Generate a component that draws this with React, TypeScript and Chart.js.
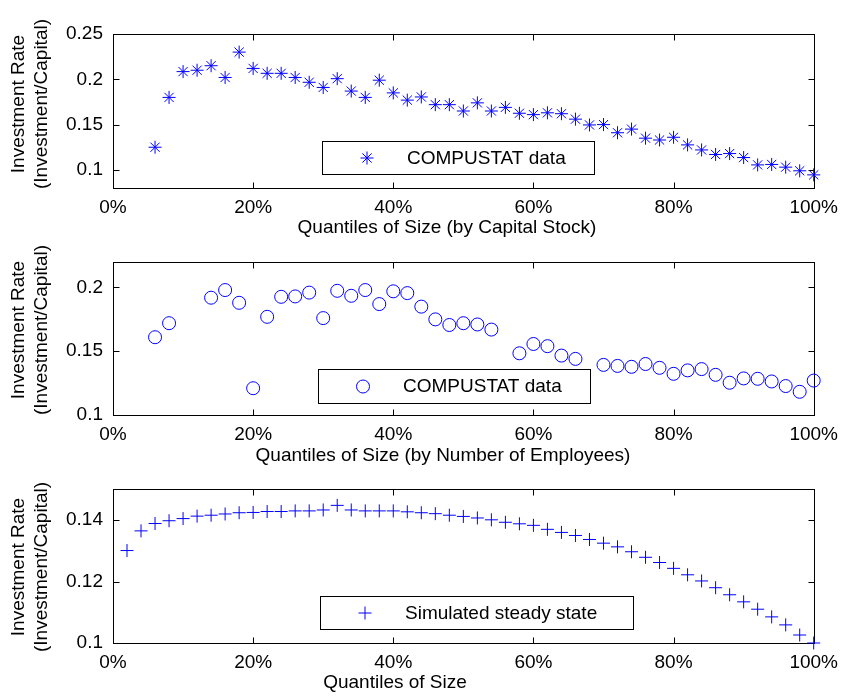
import React, { useEffect, useRef } from 'react';
import { Chart, registerables } from 'chart.js';

Chart.register(...registerables);

const FONT = "'Liberation Sans', Arial, Helvetica, sans-serif";
const BLUE = '#0000ff';

// ---- tick labels ----
const xTickValues = [0, 20, 40, 60, 80, 100];
const yTicksCapital = [0.1, 0.15, 0.2, 0.25];
const yTicksEmployees = [0.1, 0.15, 0.2];
const yTicksSimulated = [0.1, 0.12, 0.14];
const yTitleLines = ['Investment Rate', '(Investment/Capital)'];

// ---- panel 1: by capital stock ----
const capitalQuantiles = [
  6, 8, 10, 12, 14, 16, 18, 20, 22, 24,
  26, 28, 30, 32, 34, 36, 38, 40, 42, 44,
  46, 48, 50, 52, 54, 56, 58, 60, 62, 64,
  66, 68, 70, 72, 74, 76, 78, 80, 82, 84,
  86, 88, 90, 92, 94, 96, 98, 100,
];
const capitalRates = [
  0.125, 0.180, 0.2085, 0.210, 0.215, 0.202, 0.230, 0.212, 0.2066, 0.2066,
  0.202, 0.1967, 0.191, 0.2007, 0.187, 0.180, 0.199, 0.185, 0.177, 0.1805,
  0.172, 0.172, 0.165, 0.174, 0.165, 0.169, 0.1625, 0.161, 0.163, 0.162,
  0.156, 0.1496, 0.150, 0.141, 0.145, 0.135, 0.133, 0.136, 0.1276, 0.122,
  0.117, 0.118, 0.1136, 0.1055, 0.106, 0.103, 0.099, 0.0945,
];

// ---- panel 2: by number of employees ----
const employeeQuantiles = [
  6, 8, 14, 16, 18, 20, 22, 24, 26, 28,
  30, 32, 34, 36, 38, 40, 42, 44, 46, 48,
  50, 52, 54, 58, 60, 62, 64, 66, 70, 72,
  74, 76, 78, 80, 82, 84, 86, 88, 90, 92,
  94, 96, 98, 100,
];
const employeeRates = [
  0.161, 0.172, 0.192, 0.198, 0.188, 0.121, 0.177, 0.1927, 0.193, 0.196,
  0.176, 0.1974, 0.1935, 0.198, 0.187, 0.197, 0.1956, 0.185, 0.175, 0.1706,
  0.172, 0.171, 0.167, 0.1484, 0.1557, 0.154, 0.1466, 0.144, 0.1393, 0.1385,
  0.1378, 0.140, 0.137, 0.1323, 0.135, 0.136, 0.1315, 0.1253, 0.1287, 0.1284,
  0.1263, 0.1227, 0.1182, 0.127,
];

// ---- panel 3: simulated steady state ----
const simulatedQuantiles = [
  2, 4, 6, 8, 10, 12, 14, 16, 18, 20,
  22, 24, 26, 28, 30, 32, 34, 36, 38, 40,
  42, 44, 46, 48, 50, 52, 54, 56, 58, 60,
  62, 64, 66, 68, 70, 72, 74, 76, 78, 80,
  82, 84, 86, 88, 90, 92, 94, 96, 98, 100,
];
const simulatedRates = [
  0.1301, 0.1365, 0.1389, 0.1398, 0.1405, 0.1413, 0.1416, 0.142, 0.1424, 0.1425,
  0.1428, 0.1428, 0.143, 0.143, 0.1433, 0.1448, 0.1433, 0.143, 0.143, 0.143,
  0.1427, 0.1424, 0.1421, 0.1416, 0.1412, 0.1407, 0.1401, 0.1393, 0.1388, 0.1383,
  0.137, 0.136, 0.135, 0.1337, 0.1325, 0.1313, 0.1297, 0.1279, 0.1262, 0.1243,
  0.1222, 0.1202, 0.118, 0.1157, 0.1134, 0.111, 0.1085, 0.1059, 0.1026, 0.1,
];

type PanelCfg = {
  top: number;
  height: number;
  plotTop: number;
  plotBottom: number;
  xs: number[];
  ys: number[];
  yMin: number;
  yMax: number;
  yTicks: number[];
  pointStyle: 'star' | 'circle' | 'cross';
  label: string;
  xTitle: string;
  xTitleX: number;
  xTitleY: number;
  yTitleY: number;
  legendBox: [number, number, number, number];
};

const panels: PanelCfg[] = [
  {
    top: 0, height: 240, plotTop: 34, plotBottom: 188,
    xs: capitalQuantiles, ys: capitalRates,
    yMin: 0.08, yMax: 0.25, yTicks: yTicksCapital,
    pointStyle: 'star', label: 'COMPUSTAT data',
    xTitle: 'Quantiles of Size (by Capital Stock)', xTitleX: 447, xTitleY: 228,
    yTitleY: 104,
    legendBox: [322, 141, 272, 33],
  },
  {
    top: 240, height: 228, plotTop: 22, plotBottom: 175,
    xs: employeeQuantiles, ys: employeeRates,
    yMin: 0.1, yMax: 0.22, yTicks: yTicksEmployees,
    pointStyle: 'circle', label: 'COMPUSTAT data',
    xTitle: 'Quantiles of Size (by Number of Employees)', xTitleX: 443, xTitleY: 216,
    yTitleY: 90,
    legendBox: [318, 129, 272, 34],
  },
  {
    top: 468, height: 228, plotTop: 20, plotBottom: 175,
    xs: simulatedQuantiles, ys: simulatedRates,
    yMin: 0.1, yMax: 0.15, yTicks: yTicksSimulated,
    pointStyle: 'cross', label: 'Simulated steady state',
    xTitle: 'Quantiles of Size', xTitleX: 395, xTitleY: 215,
    yTitleY: 99,
    legendBox: [320, 128, 313, 33],
  },
];

function drawMarker(ctx: CanvasRenderingContext2D, style: string, x: number, y: number, r: number) {
  ctx.beginPath();
  if (style === 'circle') {
    ctx.arc(x, y, r, 0, Math.PI * 2);
  } else {
    ctx.moveTo(x - r, y);
    ctx.lineTo(x + r, y);
    ctx.moveTo(x, y - r);
    ctx.lineTo(x, y + r);
    if (style === 'star') {
      const d = r * Math.SQRT1_2;
      ctx.moveTo(x - d, y - d);
      ctx.lineTo(x + d, y + d);
      ctx.moveTo(x - d, y + d);
      ctx.lineTo(x + d, y - d);
    }
  }
  ctx.stroke();
}

function Panel({ cfg }: { cfg: PanelCfg }) {
  const ref = useRef<HTMLCanvasElement | null>(null);

  useEffect(() => {
    if (!ref.current) return;

    const framePlugin = {
      id: 'frameTicks',
      beforeDatasetsDraw(chart: any) {
        const { ctx, chartArea: a, scales } = chart;
        const L = 6;
        ctx.save();
        ctx.strokeStyle = '#000';
        ctx.lineWidth = 1;
        const l = Math.round(a.left) + 0.5;
        const r = Math.round(a.right) + 0.5;
        const t = Math.round(a.top) + 0.5;
        const b = Math.round(a.bottom) + 0.5;
        ctx.strokeRect(l, t, r - l, b - t);
        ctx.beginPath();
        for (const tk of scales.x.ticks) {
          const px = Math.round(scales.x.getPixelForValue(tk.value)) + 0.5;
          ctx.moveTo(px, b); ctx.lineTo(px, b - L);
          ctx.moveTo(px, t); ctx.lineTo(px, t + L);
        }
        for (const tk of scales.y.ticks) {
          const py = Math.round(scales.y.getPixelForValue(tk.value)) + 0.5;
          ctx.moveTo(l, py); ctx.lineTo(l + L, py);
          ctx.moveTo(r, py); ctx.lineTo(r - L, py);
        }
        ctx.stroke();
        ctx.restore();
      },
    };

    const legendPlugin = {
      id: 'boxLegend',
      afterDatasetsDraw(chart: any) {
        const { ctx } = chart;
        const [bx, by, bw, bh] = cfg.legendBox;
        ctx.save();
        ctx.fillStyle = '#fff';
        ctx.fillRect(bx, by, bw, bh);
        ctx.strokeStyle = '#000';
        ctx.lineWidth = 1;
        ctx.strokeRect(bx + 0.5, by + 0.5, bw, bh);
        ctx.strokeStyle = BLUE;
        drawMarker(ctx, cfg.pointStyle, bx + 45, by + bh / 2 + 0.5, 6.5);
        ctx.fillStyle = '#000';
        ctx.font = `19px ${FONT}`;
        ctx.textAlign = 'left';
        ctx.textBaseline = 'middle';
        ctx.fillText(cfg.label, bx + 85, by + bh / 2 + 1);
        ctx.restore();
      },
    };

    const titlesPlugin = {
      id: 'axisTitles',
      afterDraw(chart: any) {
        const { ctx } = chart;
        ctx.save();
        ctx.fillStyle = '#000';
        ctx.font = `19px ${FONT}`;
        ctx.textAlign = 'center';
        ctx.textBaseline = 'middle';
        ctx.fillText(cfg.xTitle, cfg.xTitleX, cfg.xTitleY);
        ctx.restore();

        ctx.save();
        ctx.fillStyle = '#000';
        ctx.font = `19px ${FONT}`;
        ctx.textAlign = 'center';
        ctx.textBaseline = 'middle';
        const xs = [19, 42];
        yTitleLines.forEach((line, i) => {
          ctx.save();
          ctx.translate(xs[i], cfg.yTitleY);
          ctx.rotate(-Math.PI / 2);
          ctx.fillText(line, 0, 0);
          ctx.restore();
        });
        ctx.restore();
      },
    };

    const chart = new Chart(ref.current, {
      type: 'scatter',
      data: {
        datasets: [
          {
            label: cfg.label,
            data: cfg.xs.map((x, i) => ({ x, y: cfg.ys[i] })),
            pointStyle: cfg.pointStyle,
            pointRadius: 6.5,
            pointHoverRadius: 6.5,
            borderColor: BLUE,
            backgroundColor: 'rgba(0,0,0,0)',
            borderWidth: 1,
            pointBorderWidth: 1,
            showLine: false,
            clip: false as any,
          } as any,
        ],
      },
      options: {
        animation: false,
        responsive: false,
        maintainAspectRatio: false,
        events: [],
        layout: { padding: { top: cfg.plotTop, right: 26, left: 0, bottom: 0 } },
        plugins: {
          legend: { display: false },
          tooltip: { enabled: false },
          title: { display: false },
        },
        scales: {
          x: {
            type: 'linear',
            min: 0,
            max: 100,
            grid: { display: false, drawTicks: false },
            border: { display: false },
            ticks: {
              color: '#000',
              font: { family: FONT, size: 19 },
              padding: 8,
              maxRotation: 0,
              autoSkip: false,
              callback: (v: any) => `${v}%`,
            },
            afterBuildTicks: (s: any) => {
              s.ticks = xTickValues.map((v) => ({ value: v }));
            },
            afterFit: (s: any) => {
              s.height = cfg.height - cfg.plotBottom;
            },
          },
          y: {
            type: 'linear',
            min: cfg.yMin,
            max: cfg.yMax,
            grid: { display: false, drawTicks: false },
            border: { display: false },
            ticks: {
              color: '#000',
              font: { family: FONT, size: 19 },
              padding: 10,
              autoSkip: false,
              callback: (v: any) => String(Number(Number(v).toFixed(2))),
            },
            afterBuildTicks: (s: any) => {
              s.ticks = cfg.yTicks.map((v) => ({ value: v }));
            },
            afterFit: (s: any) => {
              s.width = 113;
            },
            title: { display: false },
          },
        },
      } as any,
      plugins: [framePlugin, legendPlugin, titlesPlugin],
    });

    return () => chart.destroy();
  }, [cfg]);

  return (
    <canvas
      ref={ref}
      width={846}
      height={cfg.height}
      style={{ position: 'absolute', left: 0, top: cfg.top, width: 846, height: cfg.height, display: 'block' }}
    />
  );
}

export default function App() {
  return (
    <div style={{ position: 'absolute', left: 0, top: 0, width: 846, height: 696, background: '#fff' }}>
      {panels.map((p, i) => (
        <Panel key={i} cfg={p} />
      ))}
    </div>
  );
}
